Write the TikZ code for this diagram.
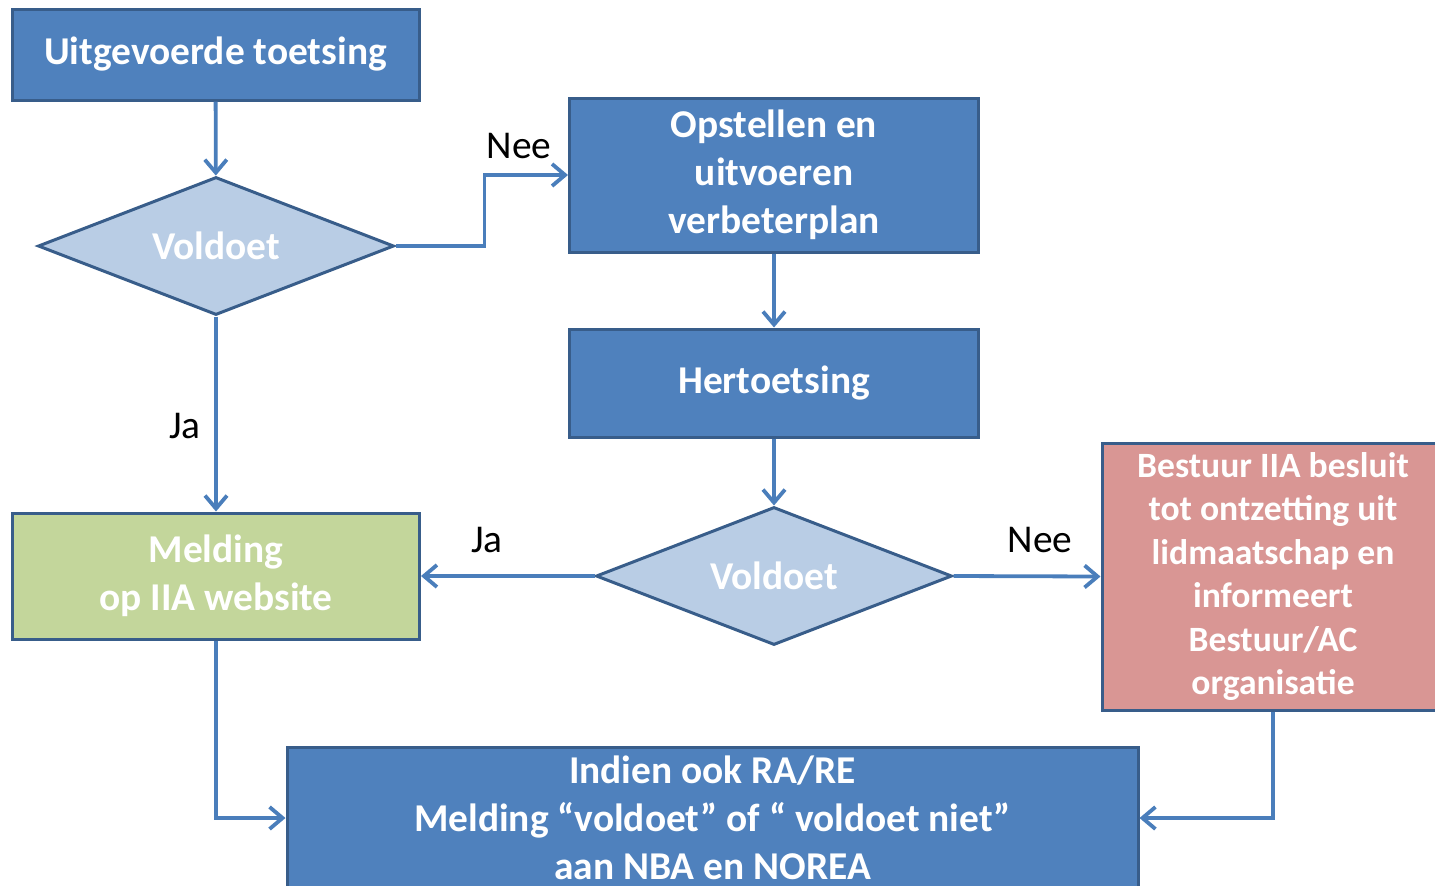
\documentclass[tikz,border=0pt]{standalone}
\usepackage{fontspec}
\setmainfont{Carlito}
\usetikzlibrary{positioning, arrows.meta, shapes.geometric}

\definecolor{boxblue}{HTML}{4F81BD}
\definecolor{edgeblue}{HTML}{385D8A}
\definecolor{diafill}{HTML}{B9CDE5}
\definecolor{arrowblue}{HTML}{4A7EBB}
\definecolor{greenfill}{HTML}{C3D69B}
\definecolor{redfill}{HTML}{D99694}

\begin{document}
\begin{tikzpicture}[
  x=0.5pt, y=-0.5pt,
  font=\fontsize{19.7}{24}\selectfont,
  >={Straight Barb[length=6.5pt,width=11pt]},
  fbox/.style={draw=edgeblue, line width=1.5pt, fill=boxblue, text=white,
               align=center, inner sep=0pt,
               font=\fontsize{19.7}{24}\selectfont\bfseries},
  dbox/.style={diamond, draw=edgeblue, line width=1.5pt, fill=diafill,
               text=white, inner sep=0pt, aspect=2.5,
               minimum width=178pt, minimum height=69pt,
               font=\fontsize{19.7}{24}\selectfont\bfseries},
  gbox/.style={fbox, fill=greenfill},
  rbox/.style={fbox, fill=redfill,
               font=\fontsize{17.8}{21.7}\selectfont\bfseries},
  arr/.style={->, line width=1.9pt, draw=arrowblue},
  lbl/.style={text=black, inner sep=0pt},
]
\useasboundingbox (0,0) rectangle (1435,885);
% ---- left column ----
\node[fbox, minimum width=203.5pt, minimum height=45.5pt] (start) at (215.5,54.5)
  {Uitgevoerde toetsing};
\node[dbox] (check1) at (216,246) {Voldoet};
\node[gbox, minimum width=203.5pt, minimum height=63pt] (melding) at (216,576)
  {Melding\\op IIA website};
% ---- middle column ----
\node[fbox, minimum width=204.5pt, minimum height=77pt] (plan) at (774,175)
  {Opstellen en\\uitvoeren\\verbeterplan};
\node[fbox, minimum width=204.5pt, minimum height=54pt] (retest) at (774,383)
  {Hertoetsing};
\node[dbox] (check2) at (774,576) {Voldoet};
% ---- right / bottom ----
\node[rbox, minimum width=171pt, minimum height=133.5pt] (bestuur) at (1273,576.5)
  {Bestuur IIA besluit\\tot ontzetting uit\\lidmaatschap en\\informeert\\Bestuur/AC\\organisatie};
\node[fbox, minimum width=425.5pt, minimum height=71pt] (nba) at (712.5,818)
  {Indien ook RA/RE\\Melding “voldoet” of “ voldoet niet”\\aan NBA en NOREA};
% ---- labels ----
\node[lbl] (nee1) at (519,146) {Nee};
\node[lbl] (ja1) at (185,426) {Ja};
\node[lbl] (ja2) at (487,540) {Ja};
\node[lbl] (nee2) at (1040,540) {Nee};
% ---- connectors ----
\draw[arr] (start) -- (check1);
\draw[arr] (check1.east) -- ++(89,0) |- (plan.west);
\draw[arr] (check1) -- (melding);
\draw[arr] (plan) -- (retest);
\draw[arr] (retest) -- (check2);
\draw[arr] (check2.west) -- (melding.east);
\draw[arr] (check2.east) -- (bestuur.west);
\draw[arr] (melding.south) |- (nba.west);
\draw[arr] (bestuur.south) |- (nba.east);
\end{tikzpicture}
\end{document}
